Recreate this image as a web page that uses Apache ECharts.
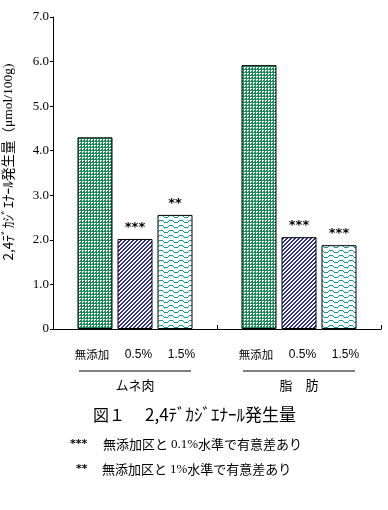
<!DOCTYPE html>
<html><head><meta charset="utf-8">
<script src="https://cdn.jsdelivr.net/npm/echarts/dist/echarts.min.js"></script>
<style>html,body{margin:0;padding:0;background:#fff}#c{width:388px;height:510px}</style>
</head><body><div id="c"></div>
<script>
const categories = ['ムネ肉', '脂　肪'];
const seriesNames = ['無添加', '0.5%', '1.5%'];
const values0 = [4.30, 5.92];
const values1 = [2.02, 2.06];
const values2 = [2.56, 1.88];
const stars0 = ['', ''];
const stars1 = ['***', '***'];
const stars2 = ['**', '***'];
const yMin = 0, yMax = 7, yStep = 1;
const yName = '2,4ﾃﾞｶｼﾞｴﾅｰﾙ発生量（';
const yUnit = 'μmol/100g)';
const figTitleA = '図１';
const figTitleB = '2,4ﾃﾞｶｼﾞｴﾅｰﾙ発生量';
const note1Mark = '***', note1A = '無添加区と ', note1Num = '0.1%', note1B = '水準で有意差あり';
const note2Mark = '**', note2A = '無添加区と ', note2Num = '1%', note2B = '水準で有意差あり';

function makePattern(w, h, bg, fg, test) {
  const c = document.createElement('canvas');
  c.width = w; c.height = h;
  const ctx = c.getContext('2d');
  ctx.fillStyle = bg; ctx.fillRect(0, 0, w, h);
  ctx.fillStyle = fg;
  for (let y = 0; y < h; y++) for (let x = 0; x < w; x++) if (test(x, y)) ctx.fillRect(x, y, 1, 1);
  return c;
}
const green = '#1f8a5a', navy = '#2f2f92', teal = '#0a9a9a';
const patGreen = makePattern(3, 3, green, '#ffffff', (x, y) => (x === 1 && y >= 1) || (x === 2 && y === 1));
const patBlue = makePattern(4, 4, '#ffffff', navy, (x, y) => (x + y) % 4 < 2);
const waveY = [0, 0, 0, 1, 2, 2, 2, 2, 1, 0];
const patTeal = makePattern(10, 5, '#ffffff', teal, (x, y) => y === waveY[x]);
const patterns = [patGreen, patBlue, patTeal];
const valuesAll = [values0, values1, values2];
const starsAll = [stars0, stars1, stars2];

const chart = echarts.init(document.getElementById('c'), null, {renderer: 'canvas'});
const xLabelRich = {
  a: {width: 34, fontSize: 11.5, fontFamily: 'Noto Sans CJK JP', lineHeight: 16, color: '#000'},
  b: {width: 59, fontSize: 12, fontFamily: 'Liberation Sans', lineHeight: 16, color: '#000'},
  c: {width: 27, fontSize: 12, fontFamily: 'Liberation Sans', lineHeight: 16, color: '#000'},
  l: {width: 112, height: 1, lineHeight: 16, fontSize: 1, backgroundColor: '#000'},
  g: {fontSize: 13, fontFamily: 'Noto Sans CJK JP', lineHeight: 12, color: '#000'}
};
const option = {
  animation: false,
  backgroundColor: '#fff',
  grid: {left: 53, right: 7, top: 17, bottom: 181, containLabel: false, outerBoundsMode: 'none'},
  title: [
    {text: '{a|' + figTitleA + '}{b|' + figTitleB + '}', left: 93, top: 406, padding: 0,
     textStyle: {fontWeight: 'normal', rich: {
       a: {fontSize: 16, fontWeight: 'normal', fontFamily: 'Noto Sans CJK JP', width: 52, color: '#000'},
       b: {fontSize: 17, fontWeight: 'normal', fontFamily: 'Noto Sans CJK JP', color: '#000'}}}},
    {text: '{s|' + note1Mark + '}{t|' + note1A + '}{n|' + note1Num + '}{t|' + note1B + '}', left: 70, top: 438, padding: 0,
     textStyle: {fontWeight: 'normal', rich: {
       s: {fontSize: 11, fontFamily: 'DejaVu Sans', fontWeight: 'bold', width: 33, color: '#000'},
       t: {fontSize: 13, fontWeight: 'normal', fontFamily: 'Noto Sans CJK JP', color: '#000'},
       n: {fontSize: 13, fontWeight: 'normal', fontFamily: 'Liberation Serif', color: '#000'}}}},
    {text: '{s|' + note2Mark + '}{t|' + note2A + '}{n|' + note2Num + '}{t|' + note2B + '}', left: 76, top: 463, padding: 0,
     textStyle: {fontWeight: 'normal', rich: {
       s: {fontSize: 11, fontFamily: 'DejaVu Sans', fontWeight: 'bold', width: 26, color: '#000'},
       t: {fontSize: 13, fontWeight: 'normal', fontFamily: 'Noto Sans CJK JP', color: '#000'},
       n: {fontSize: 13, fontWeight: 'normal', fontFamily: 'Liberation Serif', color: '#000'}}}}
  ],
  xAxis: {
    type: 'category', data: categories,
    axisLine: {lineStyle: {color: '#000', width: 1}},
    axisTick: {show: true, inside: true, length: 4, alignWithLabel: false, lineStyle: {color: '#000'}},
    splitLine: {show: false},
    axisLabel: {
      interval: 0, margin: 18,
      formatter: (v) => '{a|' + seriesNames[0] + '}{b|' + seriesNames[1] + '}{c|' + seriesNames[2] + '}\n{l| }\n{g|' + v + '}',
      rich: xLabelRich
    }
  },
  yAxis: {
    type: 'value', min: yMin, max: yMax, interval: yStep,
    axisLine: {show: true, lineStyle: {color: '#000', width: 1}},
    axisTick: {show: true, inside: false, length: 3, lineStyle: {color: '#000'}},
    splitLine: {show: false},
    axisLabel: {margin: 4, fontSize: 13, fontFamily: 'Liberation Serif', color: '#000',
      formatter: (v) => v === 0 ? '0' : v.toFixed(1)},
    name: '{a|' + yName + '}{b|' + yUnit + '}',
    nameLocation: 'middle', nameGap: 38, nameRotate: 90,
    nameTextStyle: {padding: [0, 0, 0, 22], rich: {
      a: {fontSize: 13.5, fontFamily: 'Noto Sans CJK JP', color: '#000'},
      b: {fontSize: 13.5, fontFamily: 'Liberation Serif', color: '#000'}}}
  },
  series: valuesAll.map((vals, i) => ({
    type: 'bar', name: seriesNames[i], data: vals,
    barWidth: 35, barGap: '14.3%',
    itemStyle: {color: {image: patterns[i], repeat: 'repeat'}, borderColor: '#000', borderWidth: 1},
    label: {show: true, position: 'top', distance: 5, fontSize: 13, fontWeight: 'bold',
      fontFamily: 'DejaVu Sans', color: '#000',
      formatter: (p) => starsAll[i][p.dataIndex]}
  }))
};
chart.setOption(option);
</script></body></html>
